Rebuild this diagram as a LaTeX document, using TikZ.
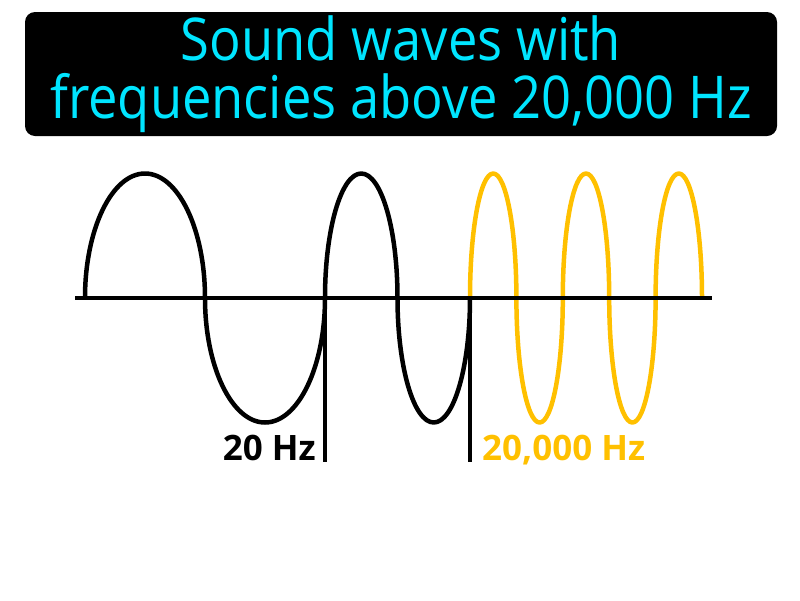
\documentclass[tikz,border=0pt]{standalone}
\usepackage{fontspec}
\setmainfont{Open Sans}
\newfontfamily\titlefont{Open Sans}[FakeStretch=0.89]
\usetikzlibrary{positioning}
\definecolor{titlecyan}{RGB}{0,229,255}
\definecolor{highgold}{RGB}{255,192,0}
\tikzset{
    %Define style for the title box
    titlebox/.style={
           rectangle,
           rounded corners=10pt,
           fill=black,
           text=titlecyan,
           minimum width=752pt,
           minimum height=124pt,
           align=center,
           font=\titlefont\fontsize{59}{58}\selectfont},
    % Define line styles
    axisline/.style={
           line width=4pt},
    marker/.style={
           line width=4pt},
    wave/.style={
           line width=4.5pt,
           line join=round},
    % half waves, up and down
    up/.style={start angle=180, end angle=360, x radius=#1, y radius=124.5},
    down/.style={start angle=180, end angle=0, x radius=#1, y radius=124.5},
    %Define style for the frequency labels
    freqlabel/.style={
           inner sep=0pt,
           font=\fontsize{35}{35}\selectfont\bfseries}
}

\begin{document}
\begin{tikzpicture}[x=1pt,y=-1pt]
\useasboundingbox (0,0) rectangle (800,600);

\node[titlebox] (title) at (401,74) {Sound waves with\\frequencies above 20,000 Hz};

\coordinate (axisL) at (75,298);
\coordinate (axisR) at (712,298);
\coordinate (lowstart) at (85,298);
\coordinate (lowtop) at (325,298);
\coordinate (lowbot) at (325,462);
\coordinate (hightop) at (470,298);
\coordinate (highbot) at (470,462);

% the low wave, then the high one
\draw[wave] (lowstart) arc[up=60] arc[down=60] arc[up=36.25] arc[down=36.25];
\draw[wave, highgold] (hightop) arc[up=23.2] arc[down=23.2] arc[up=23.2] arc[down=23.2] arc[up=23.2];

\draw[axisline] (axisL) -- (axisR);
\draw[marker] (lowtop) -- (lowbot);
\draw[marker] (hightop) -- (highbot);

\node[freqlabel, anchor=base east] (lowlabel) at (316,460) {20 Hz};
\node[freqlabel, anchor=base west, text=highgold] (highlabel) at (482,460) {20,000 Hz};

\end{tikzpicture}
\end{document}
